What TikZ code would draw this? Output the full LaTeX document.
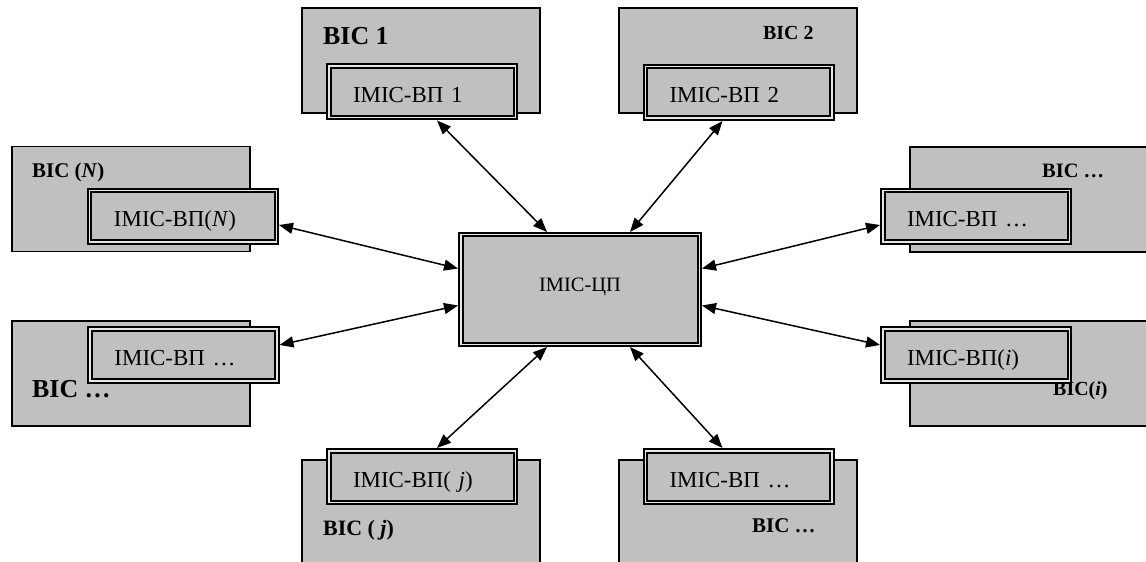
\documentclass[tikz,border=0pt]{standalone}
\usepackage{fontspec}
\setmainfont{Liberation Serif}
\usetikzlibrary{arrows.meta,positioning,calc}
\definecolor{silver}{RGB}{192,192,192}

\begin{document}
\begin{tikzpicture}[x=1bp, y=-1bp,
    bicbox/.style={draw, line width=1.5bp, fill=silver, minimum width=238bp, minimum height=105bp, inner sep=0pt},
    biclabel/.style={anchor=base west, inner sep=0pt, font=\bfseries},
    vpbox/.style={draw, line width=2bp, double=gray!20, double distance=1.5bp, fill=silver, outer sep=2.75bp,
        minimum width=186.5bp, minimum height=51.5bp, inner xsep=24.25bp, inner ysep=0pt, text width=138bp, align=left,
        text height=25bp, text depth=4bp, font=\fontsize{23}{27}\selectfont},
    arrow/.style={line width=1.5bp, {Triangle[length=14bp,width=11bp]}-{Triangle[length=14bp,width=11bp]}}]

        \useasboundingbox (0,0) rectangle (1146,562);
        \clip (0,0) rectangle (1146,562);

        % outer boxes
        \node[bicbox] (BIC1) at (421,60.5) {};
        \node[bicbox] (BIC2) at (738,60.5) {};
        \node[bicbox] (BICN) at (131,199) {};
        \node[bicbox] (BICr) at (1029,199.5) {};
        \node[bicbox] (BICl) at (131,373.5) {};
        \node[bicbox] (BICi) at (1029,373.5) {};
        \node[bicbox] (BICj) at (421,512.5) {};
        \node[bicbox] (BICb) at (738,512.5) {};

        % their labels
        \node[biclabel, font=\bfseries\fontsize{26}{30}\selectfont] (BIC1_text) at (323,44.5) {ВІС 1};
        \node[biclabel, font=\bfseries\fontsize{20}{24}\selectfont] (BIC2_text) at (763,40) {ВІС 2};
        \node[biclabel, font=\bfseries\fontsize{21}{25}\selectfont] (BICN_text) at (32,178) {ВІС (\textit{N})};
        \node[biclabel, font=\bfseries\fontsize{20.5}{24}\selectfont] (BICr_text) at (1042,178) {ВІС …};
        \node[biclabel, font=\bfseries\fontsize{26}{30}\selectfont] (BICl_text) at (32,397) {ВІС …};
        \node[biclabel, font=\bfseries\fontsize{20}{24}\selectfont] (BICi_text) at (1053,395) {ВІС(\textit{i})};
        \node[biclabel, font=\bfseries\fontsize{22}{26}\selectfont] (BICj_text) at (323,535) {ВІС ( \textit{j})};
        \node[biclabel, font=\bfseries\fontsize{21}{25}\selectfont] (BICb_text) at (752,532) {ВІС …};

        % inner boxes
        \node[vpbox] (VP1) at (422,92) {ІМІС-ВП 1};
        \node[vpbox] (VP2) at (738.5,92.5) {ІМІС-ВП 2};
        \node[vpbox] (VPN) at (183,216.5) {ІМІС-ВП(\textit{N})};
        \node[vpbox] (VPr) at (976,216.5) {ІМІС-ВП …};
        \node[vpbox] (VPl) at (183.5,355) {ІМІС-ВП …};
        \node[vpbox] (VPi) at (976,355) {ІМІС-ВП(\textit{i})};
        \node[vpbox] (VPj) at (422,476.5) {ІМІС-ВП( \textit{j})};
        \node[vpbox] (VPb) at (738.5,476.5) {ІМІС-ВП …};

        % centre
        \node[vpbox, minimum width=238.5bp, minimum height=109.5bp, text width=, align=center, inner xsep=0pt,
            text height=14bp, text depth=9bp, font=\fontsize{20.5}{24}\selectfont] (CP) at (580,289.5) {ІМІС-ЦП};

        % Arrows
        \draw[arrow] ([xshift=15bp]VP1.south) -- ([xshift=-33bp]CP.north);
        \draw[arrow] ([xshift=-16bp]VP2.south) -- ([xshift=50bp]CP.north);
        \draw[arrow] ([yshift=-8.5bp]VPN.east) -- ([yshift=21bp]CP.west);
        \draw[arrow] ([yshift=10bp]VPl.east) -- ([yshift=-16bp]CP.west);
        \draw[arrow] ([yshift=-8.5bp]VPr.west) -- ([yshift=21bp]CP.east);
        \draw[arrow] ([yshift=10bp]VPi.west) -- ([yshift=-16bp]CP.east);
        \draw[arrow] ([xshift=15bp]VPj.north) -- ([xshift=-33bp]CP.south);
        \draw[arrow] ([xshift=-16bp]VPb.north) -- ([xshift=50bp]CP.south);

\end{tikzpicture}
\end{document}
